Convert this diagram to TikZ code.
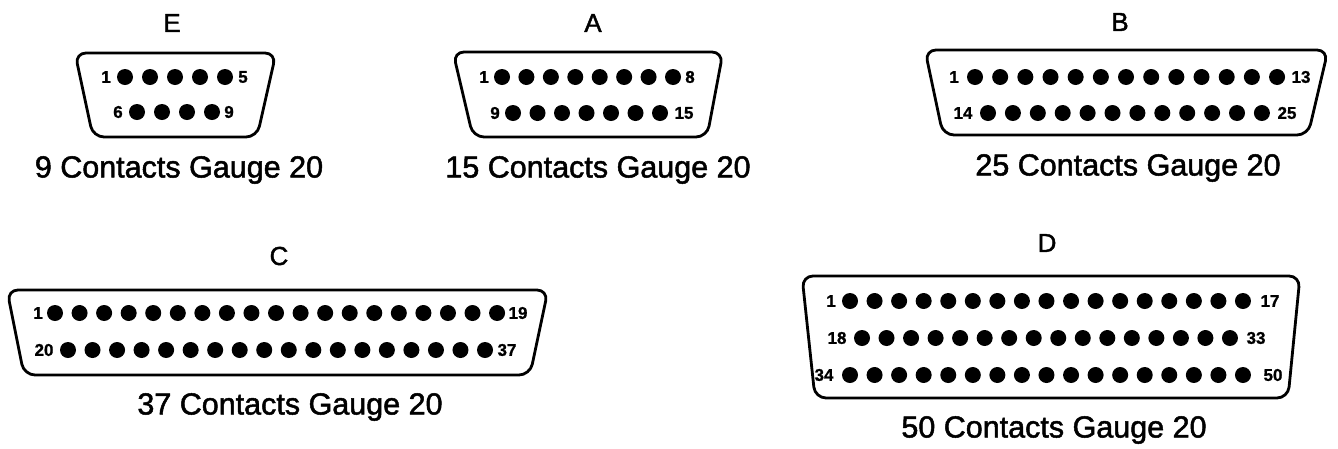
\documentclass[tikz,border=0pt]{standalone}
\usepackage{fontspec}
\setmainfont{Liberation Sans}
\newfontfamily\heavysans[FakeBold=1.6]{Liberation Sans}
\newfontfamily\pinsans[FakeBold=1]{Liberation Sans Bold}
\begin{document}
\begin{tikzpicture}[x=1pt,y=-1pt,
  shell/.style={draw=black,line width=2.8pt,rounded corners=11pt,line join=round},
  pin/.style={fill=black},
  title/.style={font=\heavysans\fontsize{26}{30}\selectfont,inner sep=0pt},
  caption/.style={font=\heavysans\fontsize{30.5}{36}\selectfont,inner sep=0pt},
  pinlbl/.style={font=\pinsans\fontsize{17}{20}\selectfont,inner sep=0pt}]
\useasboundingbox (0,0) rectangle (1338,448);
\newcommand{\pinrow}[4]{% y, x0, dx, n
  \foreach \i in {1,...,#4} {\fill[pin] ({#2+(\i-1)*#3},#1) circle[radius=8pt];}}
% ---------------- E
\node[title] (tE) at (172,23) {E};
\draw[shell] (75,53) -- (276,53) -- (257,137) -- (93,137) -- cycle;
\pinrow{77}{125}{25}{5}
\pinrow{112}{137}{25}{4}
\node[pinlbl] (E1) at (106,77) {1};
\node[pinlbl] (E5) at (243,77) {5};
\node[pinlbl] (E6) at (118,112) {6};
\node[pinlbl] (E9) at (229,112) {9};
\node[caption] (cE) at (179,170) {9 Contacts Gauge 20};
% ---------------- A
\node[title] (tA) at (593,23) {A};
\draw[shell] (453,52) -- (723,52) -- (707,137) -- (473,137) -- cycle;
\pinrow{77}{502}{24.43}{8}
\pinrow{113}{513}{24.5}{7}
\node[pinlbl] (A1) at (484,77) {1};
\node[pinlbl] (A8) at (690,77) {8};
\node[pinlbl] (A9) at (495,113) {9};
\node[pinlbl] (A15) at (684,113) {15};
\node[caption] (cA) at (598,170) {15 Contacts Gauge 20};
% ---------------- B
\node[title] (tB) at (1120,22) {B};
\draw[shell] (925,50) -- (1328,50) -- (1308,135) -- (943,135) -- cycle;
\pinrow{77}{975}{25.17}{13}
\pinrow{113}{988}{24.9}{12}
\node[pinlbl] (B1) at (954,77) {1};
\node[pinlbl] (B13) at (1301,77) {13};
\node[pinlbl] (B14) at (963,113) {14};
\node[pinlbl] (B25) at (1287,113) {25};
\node[caption] (cB) at (1128,168) {25 Contacts Gauge 20};
% ---------------- C
\node[title] (tC) at (279,256) {C};
\draw[shell] (7,290) -- (548,290) -- (530,375) -- (24,375) -- cycle;
\pinrow{313}{55}{24.56}{19}
\pinrow{350}{68}{24.53}{18}
\node[pinlbl] (C1) at (38,313) {1};
\node[pinlbl] (C19) at (518,313) {19};
\node[pinlbl] (C20) at (44,350) {20};
\node[pinlbl] (C37) at (507,350) {37};
\node[caption] (cC) at (290,407) {37 Contacts Gauge 20};
% ---------------- D
\node[title] (tD) at (1047,243) {D};
\draw[shell] (802,276) -- (1300,276) -- (1288,398) -- (815,398) -- cycle;
\pinrow{301}{850}{24.56}{17}
\pinrow{338}{862}{24.53}{16}
\pinrow{375}{850}{24.56}{17}
\node[pinlbl] (D1) at (831,301) {1};
\node[pinlbl] (D17) at (1270,301) {17};
\node[pinlbl] (D18) at (837,338) {18};
\node[pinlbl] (D33) at (1256,338) {33};
\node[pinlbl] (D34) at (824,375) {34};
\node[pinlbl] (D50) at (1273,375) {50};
\node[caption] (cD) at (1054,430) {50 Contacts Gauge 20};
\end{tikzpicture}
\end{document}
